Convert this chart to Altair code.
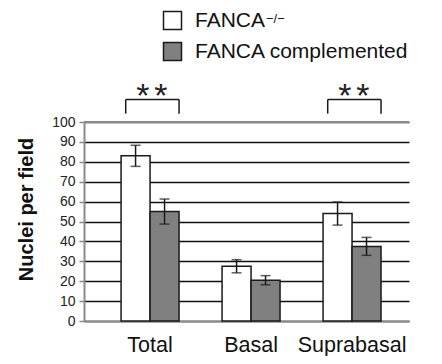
import altair as alt
import pandas as pd

categories = ["Total", "Basal", "Suprabasal"]
groups = ["FANCA−/−", "FANCA complemented"]
means_ko = [83, 27.5, 54]
err_ko = [5.3, 3.3, 5.8]
means_comp = [55, 20.5, 37.5]
err_comp = [6.3, 2.3, 4.5]

sig_categories = ["Total", "Suprabasal"]
sig_labels = ["*", "*"]
bracket_low = [104.2, 104.2]
bracket_high = [111.3, 111.3]
star_level = [107.5, 107.5]

y_ticks = [0, 10, 20, 30, 40, 50, 60, 70, 80, 90, 100]

FONT = "Liberation Sans"
DARK = "#1a1a1a"
GREY_AX = "#8a8a8a"

rows = []
for g, means, errs in [(groups[0], means_ko, err_ko), (groups[1], means_comp, err_comp)]:
    for c, m, e in zip(categories, means, errs):
        rows.append({"cat": c, "group": g, "value": m, "lo": m - e, "hi": m + e})
df = pd.DataFrame(rows)

sig = pd.DataFrame({"cat": sig_categories, "label": sig_labels,
                    "low": bracket_low, "high": bracket_high, "star": star_level})

xscale = alt.Scale(domain=categories, paddingInner=0.426, paddingOuter=0.322, align=0.57)
yscale = alt.Scale(domain=[0, 100], nice=False, zero=True)
offscale = alt.Scale(domain=groups, paddingInner=0, paddingOuter=0)

xaxis = alt.Axis(title=None, labelAngle=0, labelFont=FONT, labelFontSize=21.5,
                 labelColor="#111", labelPadding=13, ticks=False,
                 domainColor=GREY_AX, domainWidth=2, grid=False)
yaxis = alt.Axis(title="Nuclei per field", values=y_ticks,
                 labelOverlap=False, labelFont=FONT,
                 labelFontSize=14, labelColor="#222", labelPadding=4,
                 tickSize=5, tickColor=GREY_AX, tickWidth=1.5,
                 domainColor=GREY_AX, domainWidth=2,
                 grid=True, gridWidth=1.6, gridColor="#111",
                 titleFont=FONT, titleFontSize=20, titleFontWeight="bold",
                 titleColor="#111", titleAngle=270, titleX=-52, titleY=87,
                 titleAlign="center", titleBaseline="alphabetic")


def xc(**kw):
    return alt.X("cat:N", scale=xscale, sort=categories, axis=xaxis, title=None, **kw)


def yq(field):
    return alt.Y(field, scale=yscale, axis=yaxis, title="Nuclei per field")


xoff = alt.XOffset("group:N", scale=offscale, sort=groups)

base = alt.Chart(df)

bars = base.mark_bar(stroke=DARK, strokeWidth=1.5).encode(
    x=xc(),
    xOffset=xoff,
    y=yq("value:Q"),
    color=alt.Color("group:N", sort=groups,
                    scale=alt.Scale(domain=groups, range=["#ffffff", "#808080"]),
                    legend=alt.Legend(orient="none", legendX=78, legendY=-112, title=None,
                                      symbolType="square", symbolSize=324,
                                      symbolStrokeColor=DARK, symbolStrokeWidth=1.5,
                                      labelFont=FONT, labelFontSize=21, labelColor="#111",
                                      labelOffset=12, rowPadding=6, padding=0, labelLimit=400,
                                      labelExpr="replace(datum.label, '−/−', '')")),
)

top_line = alt.Chart(pd.DataFrame({"v": [max(y_ticks)]})).mark_rule(
    color=GREY_AX, strokeWidth=2).encode(y=yq("v:Q"))

err_rule = base.mark_rule(color=DARK, strokeWidth=1.5).encode(
    x=xc(), xOffset=xoff, y=yq("lo:Q"), y2="hi:Q")
cap_hi = base.mark_tick(color=DARK, orient="horizontal", size=10, thickness=1.5).encode(
    x=xc(), xOffset=xoff, y=yq("hi:Q"))
cap_lo = base.mark_tick(color=DARK, orient="horizontal", size=10, thickness=1.5).encode(
    x=xc(), xOffset=xoff, y=yq("lo:Q"))

sbase = alt.Chart(sig)
br_left = sbase.mark_rule(color=DARK, strokeWidth=1.5).encode(
    x=xc(bandPosition=0.08), y=yq("low:Q"), y2="high:Q")
br_right = sbase.mark_rule(color=DARK, strokeWidth=1.5).encode(
    x=xc(bandPosition=1.0), y=yq("low:Q"), y2="high:Q")
br_top = sbase.mark_rule(color=DARK, strokeWidth=1.5).encode(
    x=xc(bandPosition=0.08), x2=alt.X2("cat:N", bandPosition=1.0), y=yq("high:Q"))
star_l = sbase.mark_text(font=FONT, fontSize=34, color="#222", align="center",
                         baseline="alphabetic", dx=-9).encode(
    x=xc(bandPosition=0.53), y=yq("star:Q"), text="label:N")
star_r = sbase.mark_text(font=FONT, fontSize=34, color="#222", align="center",
                         baseline="alphabetic", dx=9).encode(
    x=xc(bandPosition=0.53), y=yq("star:Q"), text="label:N")

sup = alt.Chart(pd.DataFrame({"t": ["−/−"]})).mark_text(
    font=FONT, fontSize=13, color="#111", align="left", baseline="alphabetic").encode(
    x=alt.value(182), y=alt.value(-99), text="t:N")

chart = alt.layer(bars, top_line, err_rule, cap_hi, cap_lo, br_left, br_right, br_top,
                  star_l, star_r, sup).properties(
    width=325, height=199,
    autosize=alt.AutoSizeParams(type="none"),
    padding={"left": 76, "top": 114, "right": 25, "bottom": 35},
).configure_view(stroke=None)

chart.save("out.html", embed_options={"renderer": "svg", "actions": False})
